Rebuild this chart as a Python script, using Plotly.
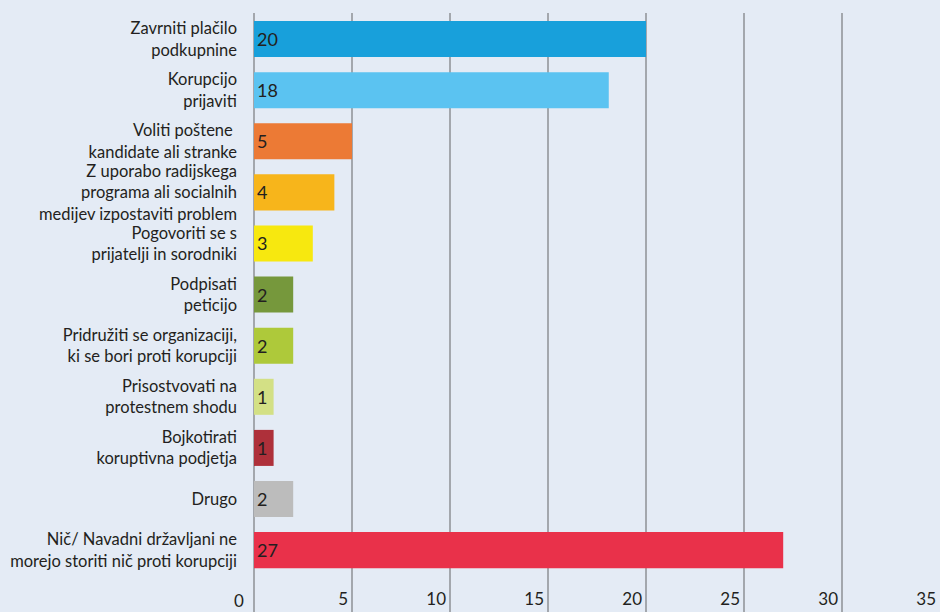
import plotly.graph_objects as go

categories = [
    "Zavrniti plačilo<br>podkupnine",
    "Korupcijo<br>prijaviti",
    "Voliti poštene <br>kandidate ali stranke",
    "Z uporabo radijskega<br>programa ali socialnih<br>medijev izpostaviti problem",
    "Pogovoriti se s<br>prijatelji in sorodniki",
    "Podpisati<br>peticijo",
    "Pridružiti se organizaciji,<br>ki se bori proti korupciji",
    "Prisostvovati na<br>protestnem shodu",
    "Bojkotirati<br>koruptivna podjetja",
    "Drugo",
    "Nič/ Navadni državljani ne<br>morejo storiti nič proti korupciji",
]
values = [20, 18.1, 5, 4.1, 3, 2, 2, 1, 1, 2, 27]
value_labels = ["20", "18", "5", "4", "3", "2", "2", "1", "1", "2", "27"]
colors = ["#18a0db", "#5bc3f1", "#ec7a35", "#f7b51b", "#f7e80f", "#76983c",
          "#aec93a", "#d3e085", "#ae303a", "#bcbcbc", "#e9314a"]
x_ticks = [0, 5, 10, 15, 20, 25, 30, 35]

FONT = "Lato"
TXT = "#231f20"
fig = go.Figure(go.Bar(
    y=categories, x=values, orientation="h",
    marker=dict(color=colors, line=dict(width=0)),
    text=value_labels, textposition="inside", insidetextanchor="start",
    textfont=dict(family=FONT, size=18, color=TXT),
    constraintext="none", hoverinfo="skip",
))
fig.update_layout(
    width=940, height=614,
    margin=dict(l=254, r=0, t=13, b=0),
    paper_bgcolor="#e4ebf5", plot_bgcolor="#e4ebf5",
    bargap=0.295, showlegend=False,
    font=dict(family=FONT, size=16, color=TXT),
)
fig.update_xaxes(
    range=[0, 35], tickvals=x_ticks, ticktext=[str(v) for v in x_ticks],
    showgrid=True, gridcolor="#a3a7ad", gridwidth=1.5,
    zeroline=True, zerolinecolor="#a3a7ad", zerolinewidth=1.5,
    ticklabelposition="inside left", ticklabelshift=-4, ticks="", showline=False,
    tickfont=dict(family=FONT, size=17, color=TXT),
)
fig.update_yaxes(
    range=[11.25, -0.51], showgrid=False, ticks="", showline=False,
    ticklabelstandoff=16,
    tickfont=dict(family=FONT, size=16.5, color=TXT),
)
# the "0" tick label sits left of the plot area, outside where plotly draws inside labels
fig.add_annotation(
    x=x_ticks[0], y=0, xref="x", yref="paper", text=str(x_ticks[0]),
    showarrow=False, xanchor="right", yanchor="bottom", xshift=-8, yshift=1,
    font=dict(family=FONT, size=17, color=TXT),
)
fig.write_html(
    "out.html",
    config={"displayModeBar": False},
    post_script="document.body.style.margin='0';document.body.style.overflow='hidden';"
                "document.documentElement.style.overflow='hidden';",
)
